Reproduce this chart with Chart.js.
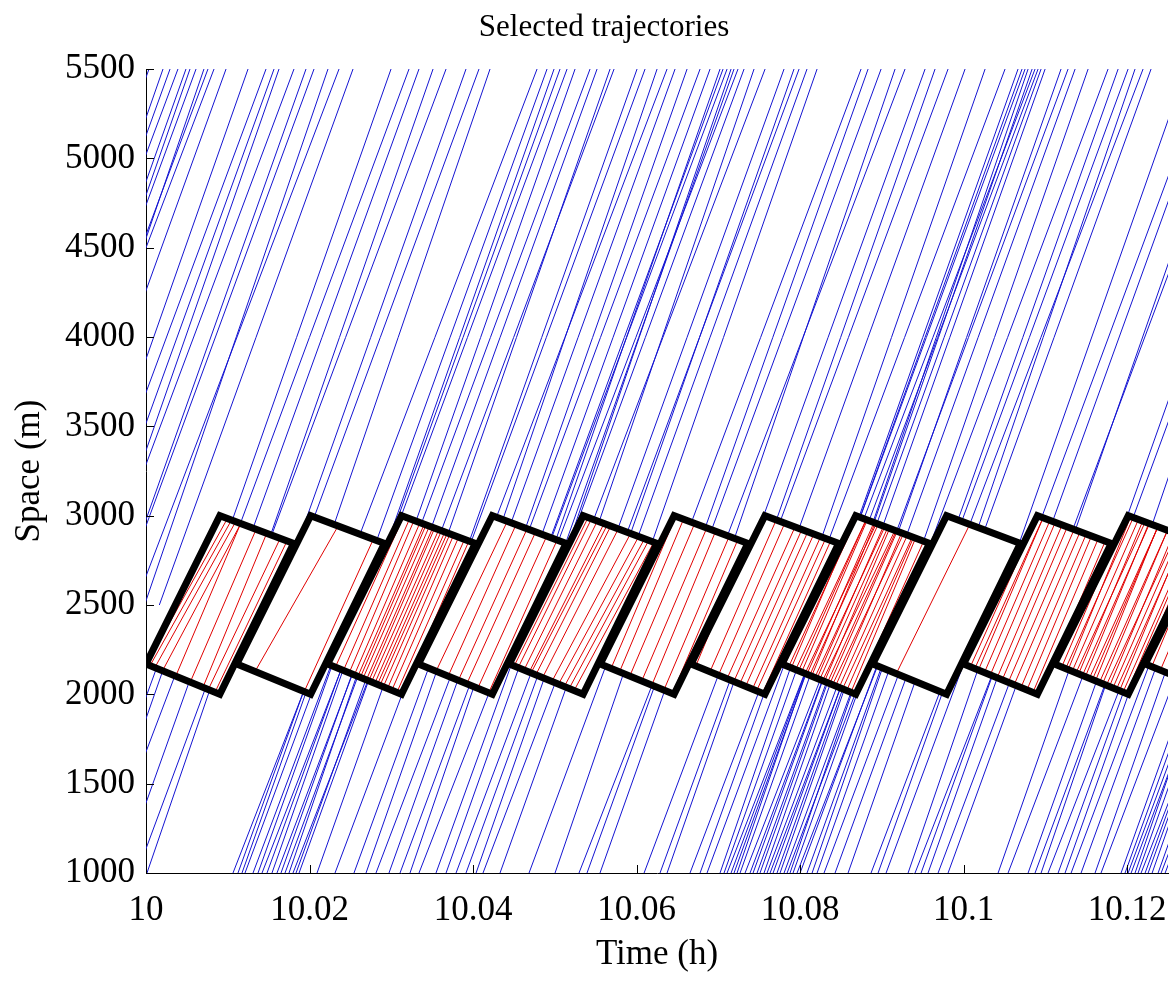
<!DOCTYPE html>
<html>
<head>
<meta charset="utf-8">
<script src="https://cdn.jsdelivr.net/npm/chart.js@4.4.0/dist/chart.umd.min.js"></script>
<style>
html,body{margin:0;padding:0;background:#ffffff;}
#wrap{width:1171px;height:983px;position:relative;}
</style>
</head>
<body>
<div id="wrap"><canvas id="c" width="1171" height="983"></canvas></div>
<script>
// ---------------- axis ticks ----------------
const xTickValues = [10, 10.02, 10.04, 10.06, 10.08, 10.1, 10.12];
const xTickLabels = ['10', '10.02', '10.04', '10.06', '10.08', '10.1', '10.12'];
const yTickValues = [1000, 1500, 2000, 2500, 3000, 3500, 4000, 4500, 5000, 5500];
const yTickLabels = ['1000', '1500', '2000', '2500', '3000', '3500', '4000', '4500', '5000', '5500'];

// ---------------- selection windows (parallelograms) ----------------
const windowStarts = [10, 10.01111, 10.02222, 10.03333, 10.04444, 10.05556, 10.06667, 10.07778, 10.08889, 10.1, 10.11111, 10.12222];
const windowVertexDt = [0, 0.00903, 0.01806, 0.00903];       // hours after window start: left, top, right, bottom
const windowVertexSpace = [2170, 3000, 2845, 2000];           // metres
const junctionSpace = 2500;                                   // upper / lower trajectory parts meet here (hidden by windows)

// ---------------- blue trajectories, upper part (time at 5500 m, time at 2000 m) ----------------
const blueUpperAt5500 = [10.00037, 10.00208, 10.00391, 10.00489, 10.00612, 10.00709, 10.00832, 10.00979, 10.01248, 10.01468,
  10.01566, 10.01627, 10.01810, 10.01957, 10.02055, 10.02226, 10.02361, 10.02532, 10.02997, 10.03217,
  10.03339, 10.03511, 10.03670, 10.03914, 10.04073, 10.04208, 10.04783, 10.04905, 10.04991, 10.05150,
  10.05517, 10.05676, 10.05725, 10.06006, 10.06104, 10.06251, 10.06373, 10.06471, 10.06618, 10.06777,
  10.06899, 10.07021, 10.07107, 10.07192, 10.07315, 10.07437, 10.07572, 10.07804, 10.07926, 10.07988,
  10.08085, 10.08208, 10.08746, 10.08832, 10.08991, 10.09162, 10.09284, 10.09529, 10.09651, 10.09810,
  10.10018, 10.10263, 10.10507, 10.10666, 10.10752, 10.10789, 10.10874, 10.10948, 10.11192, 10.11278,
  10.11364, 10.11523, 10.11767, 10.11890, 10.12012, 10.12097, 10.12195, 10.12293, 10.12721, 10.12990,
  10.13088, 10.13333, 10.13443, 10.13944, 10.14091, 10.14214,
  10.10715, 10.10838, 10.10911, 10.10997, 10.07058, 10.07156, 10.07241, 10.05064, 10.05248, 10.05431,
  10.00294, 10.00538, 10.00758];
const blueUpperAt2000 = [9.97273, 9.97541, 9.97529, 9.97773, 9.97799, 9.98091, 9.97921, 9.98215, 9.98557, 9.98630,
  9.98802, 9.98960, 9.98948, 9.99241, 9.99242, 9.99608, 9.99450, 9.99768, 10.00306, 10.00379,
  10.00575, 10.00844, 10.00808, 10.01198, 10.01260, 10.01590, 10.01872, 10.02141, 10.02300, 10.02312,
  10.02753, 10.03009, 10.02863, 10.03290, 10.03291, 10.03633, 10.03462, 10.03707, 10.03927, 10.03939,
  10.04135, 10.04354, 10.04245, 10.04476, 10.04502, 10.04819, 10.04661, 10.05040, 10.05235, 10.05150,
  10.05321, 10.05541, 10.05884, 10.06116, 10.06178, 10.06544, 10.06373, 10.06765, 10.06960, 10.06972,
  10.07254, 10.07596, 10.07645, 10.07950, 10.07939, 10.08171, 10.07963, 10.08184, 10.08501, 10.08440,
  10.08600, 10.08856, 10.08905, 10.09174, 10.09199, 10.09479, 10.09284, 10.09529, 10.10030, 10.10152,
  10.10324, 10.10666, 10.10581, 10.11228, 10.11278, 10.11596,
  10.07951, 10.08171, 10.08049, 10.08281, 10.04245, 10.04538, 10.04330, 10.02300, 10.02557, 10.02593,
  9.97530, 9.97871, 9.97896];

// ---------------- blue trajectories, lower part (time at 1000 m, time at 3000 m) ----------------
const blueLowerAt1000 = [9.99217, 9.99339, 9.99437, 9.99694, 9.99890, 10.00012, 10.01064, 10.01125, 10.01174, 10.01309,
  10.01480, 10.01541, 10.01602, 10.01651, 10.01700, 10.01749, 10.01798, 10.01872, 10.02092, 10.02312,
  10.02544, 10.02691, 10.02813, 10.02972, 10.03107, 10.03229, 10.03339, 10.03547, 10.03670, 10.03792,
  10.03914, 10.04037, 10.04122, 10.04330, 10.04685, 10.05003, 10.05296, 10.05394, 10.05553, 10.06092,
  10.06287, 10.06373, 10.06654, 10.06777, 10.06862, 10.07021, 10.07107, 10.07192, 10.07266, 10.07388,
  10.07474, 10.07559, 10.07633, 10.07718, 10.07804, 10.07877, 10.07963, 10.08085, 10.08208, 10.08293,
  10.08428, 10.08587, 10.08868, 10.08954, 10.09052, 10.09321, 10.09406, 10.09480, 10.09565, 10.09688,
  10.09810, 10.10422, 10.10544, 10.10789, 10.10874, 10.10948, 10.11033, 10.11156, 10.11241, 10.11315,
  10.11437, 10.11608, 10.11681, 10.11926, 10.12012, 10.12097, 10.12171, 10.12257, 10.12379, 10.12465,
  10.07070, 10.07156, 10.07229, 10.07327, 10.07425, 10.07510, 10.07596, 10.07670, 10.07755, 10.07841,
  10.07914, 10.08000, 10.08147, 10.11975, 10.12049, 10.12134, 10.12220, 10.12306, 10.12416,
  10.01211, 10.01370, 10.01419, 10.01835];
const blueLowerAt3000 = [10.00807, 10.00869, 10.01097, 10.01254, 10.01510, 10.01512, 10.02764, 10.02705, 10.02724, 10.02949,
  10.03070, 10.03071, 10.03262, 10.03211, 10.03320, 10.03249, 10.03498, 10.03452, 10.03642, 10.03952,
  10.04134, 10.04221, 10.04473, 10.04532, 10.04727, 10.04729, 10.05039, 10.05127, 10.05220, 10.05432,
  10.05504, 10.05567, 10.05782, 10.05890, 10.06305, 10.06503, 10.06996, 10.06974, 10.07103, 10.07732,
  10.07877, 10.07903, 10.08314, 10.08337, 10.08482, 10.08521, 10.08807, 10.08772, 10.08816, 10.09028,
  10.09064, 10.09089, 10.09293, 10.09278, 10.09424, 10.09377, 10.09663, 10.09665, 10.09758, 10.09933,
  10.10018, 10.10117, 10.10528, 10.10514, 10.10672, 10.10821, 10.11106, 10.11060, 10.11115, 10.11328,
  10.11400, 10.11952, 10.12204, 10.12349, 10.12494, 10.12448, 10.12733, 10.12736, 10.12791, 10.12955,
  10.13027, 10.13138, 10.13341, 10.13486, 10.13632, 10.13597, 10.13871, 10.13837, 10.13929, 10.14105,
  10.08630, 10.08776, 10.08729, 10.09027, 10.09005, 10.09060, 10.09236, 10.09260, 10.09285, 10.09501,
  10.09474, 10.09620, 10.09647, 10.13555, 10.13689, 10.13684, 10.13820, 10.13836, 10.14076,
  10.02831, 10.02930, 10.03119, 10.03415];

// ---------------- red (selected) trajectories: time at 2000 m and at 3000 m ----------------
const redAt2000 = [
  9.99804, 9.99853, 9.99927, 10.00049, 10.00269, 10.00477, 10.00661, 10.00734, 10.00832,
  10.01174, 10.01920, 10.02043, 10.02079, 10.02165,
  10.02287, 10.02373, 10.02446, 10.02495, 10.02532, 10.02569, 10.02618, 10.02654, 10.02691, 10.02740, 10.02777, 10.02813, 10.02862, 10.02923, 10.02985, 10.03058, 10.03131,
  10.03413, 10.03596, 10.03743, 10.03865, 10.04024, 10.04183,
  10.04330, 10.04391, 10.04477, 10.04550, 10.04575, 10.04648, 10.04746, 10.04881, 10.04978, 10.05064, 10.05137, 10.05211,
  10.05553, 10.05676, 10.05822, 10.05994, 10.06140, 10.06312, 10.06434, 10.06581,
  10.07021, 10.07119, 10.07205, 10.07290, 10.07388, 10.07449, 10.07535, 10.07608, 10.06777, 10.06899,
  10.07657, 10.07706, 10.07755, 10.07804, 10.07853, 10.07902, 10.07939, 10.07975, 10.08012, 10.08049, 10.08085, 10.08122,
  10.08159, 10.08195, 10.08232, 10.08269, 10.08306, 10.08342, 10.08391, 10.08440, 10.08489, 10.08550, 10.08611, 10.08672,
  10.09052, 10.09932, 10.09994,
  10.10055, 10.10140, 10.10226, 10.10324, 10.10397, 10.10483, 10.10568, 10.10666, 10.10752, 10.10838, 10.10935,
  10.11058, 10.11107, 10.11156, 10.11205, 10.11254, 10.11302, 10.11351, 10.11400, 10.11449, 10.11498, 10.11547,
  10.11596, 10.11645, 10.11694, 10.11743, 10.11792, 10.11841, 10.11889, 10.11938, 10.11987, 10.12036,
  10.12159, 10.12281, 10.12403];
const redAt3000 = [
  10.01015, 10.01076, 10.01138, 10.01211, 10.01199, 10.01419, 10.01566, 10.01774, 10.01872,
  10.02422, 10.02911, 10.03034, 10.03070, 10.03156,
  10.03241, 10.03303, 10.03388, 10.03449, 10.03474, 10.03523, 10.03572, 10.03596, 10.03657, 10.03694, 10.03743, 10.03780, 10.03816, 10.03865, 10.03939, 10.04024, 10.04085,
  10.04452, 10.04575, 10.04734, 10.04856, 10.05015, 10.05162,
  10.05419, 10.05468, 10.05553, 10.05651, 10.05700, 10.05749, 10.05859, 10.06043, 10.06165, 10.06251, 10.06312, 10.06385,
  10.06483, 10.06593, 10.06752, 10.06923, 10.07046, 10.07241, 10.07364, 10.07486,
  10.08000, 10.08098, 10.08183, 10.08269, 10.08367, 10.08440, 10.08513, 10.08587, 10.07731, 10.07853,
  10.08611, 10.08709, 10.08685, 10.08831, 10.08832, 10.08844, 10.08979, 10.08941, 10.09003, 10.08954, 10.09100, 10.09076,
  10.09138, 10.09247, 10.09162, 10.09260, 10.09272, 10.09369, 10.09333, 10.09419, 10.09492, 10.09504, 10.09528, 10.09651,
  10.10128, 10.10911, 10.10984,
  10.10984, 10.11082, 10.11156, 10.11253, 10.11327, 10.11425, 10.11510, 10.11596, 10.11669, 10.11767, 10.11865,
  10.11988, 10.12086, 10.12049, 10.12159, 10.12257, 10.12219, 10.12317, 10.12305, 10.12440, 10.12436, 10.12428,
  10.12575, 10.12570, 10.12709, 10.12660, 10.12746, 10.12820, 10.12794, 10.12904, 10.12929, 10.12966,
  10.13076, 10.13211, 10.13333];

// ---------------- build library data ----------------
function segmentData(tA, sA, tB, sB) {
  const out = [];
  for (let i = 0; i < tA.length; i++) {
    out.push({x: tA[i], y: sA}, {x: tB[i], y: sB}, {x: tB[i], y: null});
  }
  return out;
}
const upperData = segmentData(blueUpperAt5500, 5500, blueUpperAt2000, 2000);
const lowerData = segmentData(blueLowerAt1000, 1000, blueLowerAt3000, 3000);
const redData = segmentData(redAt2000, 2000, redAt3000, 3000);
const windowData = [];
windowStarts.forEach(w => {
  for (let j = 0; j <= windowVertexDt.length; j++) {
    const k = j % windowVertexDt.length;
    windowData.push({x: w + windowVertexDt[k], y: windowVertexSpace[k]});
  }
  windowData.push({x: w, y: null});
});

const SERIF = '"Liberation Serif", "Times New Roman", serif';
Chart.defaults.font.family = SERIF;
Chart.defaults.color = '#000';

// clip each trajectory group to its own part of the plot
const regionClip = {
  id: 'regionClip',
  beforeDatasetDraw(chart, args) {
    const label = chart.data.datasets[args.index].label;
    const {ctx, chartArea: a, scales: {x, y}} = chart;
    if (label === 'upper' || label === 'lower') {
      const yj = y.getPixelForValue(junctionSpace);
      ctx.save();
      ctx.beginPath();
      if (label === 'upper') ctx.rect(a.left, a.top, a.right - a.left, yj - a.top);
      else ctx.rect(a.left, yj, a.right - a.left, a.bottom - yj);
      ctx.clip();
    } else if (label === 'selected') {
      ctx.save();
      ctx.beginPath();
      windowStarts.forEach(w => {
        windowVertexDt.forEach((dt, j) => {
          const px = x.getPixelForValue(w + dt), py = y.getPixelForValue(windowVertexSpace[j]);
          if (j === 0) ctx.moveTo(px, py); else ctx.lineTo(px, py);
        });
        ctx.closePath();
      });
      ctx.clip();
    }
  },
  afterDatasetDraw(chart, args) {
    const label = chart.data.datasets[args.index].label;
    if (label === 'upper' || label === 'lower' || label === 'selected') chart.ctx.restore();
  }
};

const innerTicks = {
  id: 'innerTicks',
  afterDraw(chart) {
    const {ctx, chartArea: a, scales: {x, y}} = chart;
    ctx.save();
    ctx.strokeStyle = '#000';
    ctx.lineWidth = 1;
    ctx.beginPath();
    xTickValues.forEach(v => {
      const px = Math.round(x.getPixelForValue(v)) + 0.5;
      ctx.moveTo(px, a.bottom); ctx.lineTo(px, a.bottom - 8);
    });
    yTickValues.forEach(v => {
      const py = Math.round(y.getPixelForValue(v)) + 0.5;
      ctx.moveTo(a.left, py); ctx.lineTo(a.left + 8, py);
    });
    ctx.stroke();
    ctx.fillStyle = '#000';
    ctx.font = '31px ' + SERIF;
    ctx.textAlign = 'center';
    ctx.textBaseline = 'alphabetic';
    ctx.fillText('Selected trajectories', 604, 36);
    ctx.restore();
  }
};

new Chart(document.getElementById('c'), {
  type: 'line',
  data: {
    datasets: [
      {label: 'upper', data: upperData, borderColor: '#1414d2', borderWidth: 1, pointRadius: 0, fill: false, order: 5, clip: 0},
      {label: 'lower', data: lowerData, borderColor: '#1414d2', borderWidth: 1, pointRadius: 0, fill: false, order: 4, clip: 0},
      {label: 'windowFill', data: windowData, borderColor: 'rgba(0,0,0,0)', borderWidth: 1, backgroundColor: '#ffffff', fill: 'shape', pointRadius: 0, order: 3, clip: 0},
      {label: 'selected', data: redData, borderColor: '#e00000', borderWidth: 1, pointRadius: 0, fill: false, order: 2, clip: 0},
      {label: 'windowBorder', data: windowData, borderColor: '#000000', borderWidth: 7, borderJoinStyle: 'miter', pointRadius: 0, fill: false, order: 1, clip: 0}
    ]
  },
  options: {
    responsive: false,
    animation: false,
    devicePixelRatio: 1,
    layout: {padding: {top: 69, left: 8, right: 3, bottom: 0}},
    plugins: {legend: {display: false}, tooltip: {enabled: false}, title: {display: false}},
    scales: {
      x: {
        type: 'linear', min: 10, max: 10.125,
        afterBuildTicks: s => { s.ticks = xTickValues.map(v => ({value: v})); },
        afterFit: s => { s.height = 110; s.paddingLeft = 0; s.paddingRight = 0; },
        ticks: {callback: (v, i) => xTickLabels[i], font: {size: 35}, color: '#000', padding: 17, maxRotation: 0, autoSkip: false},
        grid: {display: true, drawOnChartArea: false, drawTicks: false},
        border: {display: true, color: '#000', width: 1},
        title: {display: true, text: 'Time (h)', font: {size: 35}, color: '#000', padding: {top: 0, bottom: 7}}
      },
      y: {
        type: 'linear', min: 1000, max: 5500,
        afterBuildTicks: s => { s.ticks = yTickValues.map(v => ({value: v})); },
        afterFit: s => { s.width = 138; s.paddingTop = 0; s.paddingBottom = 0; },
        ticks: {callback: (v, i) => yTickLabels[i], font: {size: 35}, color: '#000', padding: 11, autoSkip: false},
        grid: {display: true, drawOnChartArea: false, drawTicks: false},
        border: {display: true, color: '#000', width: 1},
        title: {display: true, text: 'Space (m)', font: {size: 35}, color: '#000', padding: {top: 1, bottom: 0}}
      }
    }
  },
  plugins: [regionClip, innerTicks]
});
</script>
</body>
</html>
